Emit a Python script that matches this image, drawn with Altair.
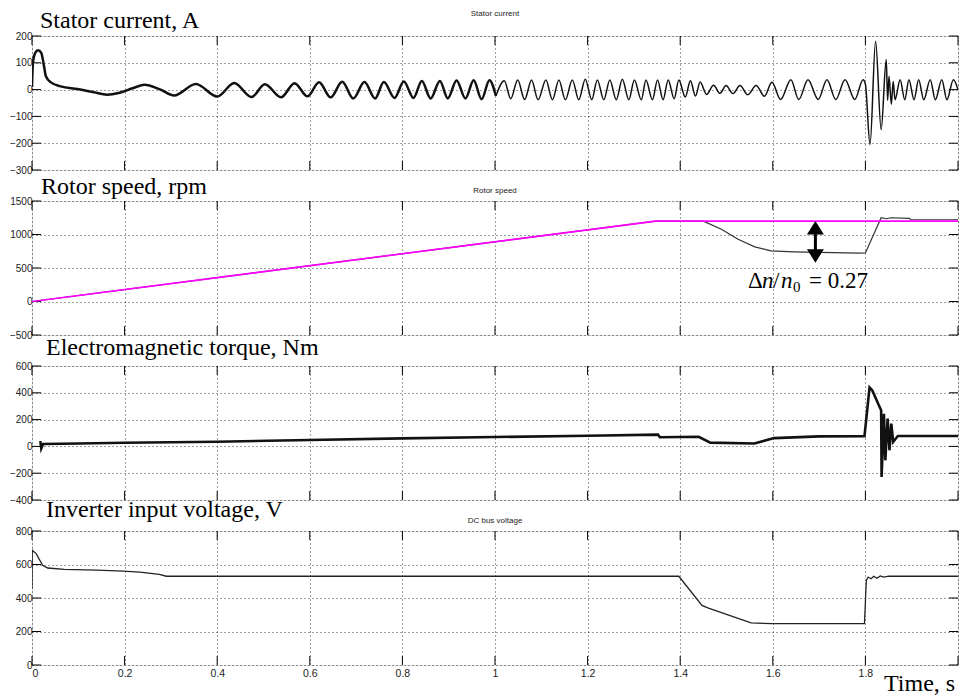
import altair as alt
import pandas as pd

# ---------------- data ----------------
x_ticks = [0, 0.2, 0.4, 0.6, 0.8, 1.0, 1.2, 1.4, 1.6, 1.8, 2.0]

# Stator current (A): turning points of the waveform
cur_t = [0.000, 0.002, 0.007, 0.013, 0.020, 0.026, 0.030, 0.041, 0.062, 0.098, 0.134, 0.162, 0.187,
         0.219, 0.243, 0.275, 0.307, 0.354, 0.400, 0.437, 0.474, 0.503, 0.538, 0.567, 0.595, 0.620,
         0.645, 0.670, 0.694, 0.718, 0.741, 0.760, 0.783, 0.803, 0.824, 0.842, 0.861, 0.881, 0.898,
         0.917, 0.936, 0.954, 0.971, 0.988, 1.002, 1.020, 1.034, 1.049, 1.064, 1.079, 1.093, 1.110,
         1.124, 1.138, 1.152, 1.167, 1.181, 1.195, 1.209, 1.221, 1.235, 1.248, 1.262, 1.275, 1.289,
         1.301, 1.316, 1.326, 1.340, 1.351, 1.363, 1.374, 1.387, 1.397, 1.411, 1.422, 1.433, 1.443,
         1.457, 1.472, 1.486, 1.499, 1.514, 1.529, 1.546, 1.564, 1.582, 1.598, 1.617, 1.639, 1.656,
         1.676, 1.698, 1.717, 1.736, 1.756, 1.777, 1.795, 1.800, 1.810, 1.822, 1.834, 1.845, 1.848,
         1.851, 1.856, 1.860, 1.864, 1.875, 1.885, 1.894, 1.905, 1.915, 1.926, 1.940, 1.951, 1.965,
         1.976, 1.990, 2.000]
cur_i = [10, 100, 137, 147, 137, 87, 50, 27, 12, 2, -10, -19, -13,
         6, 18, 2, -22, 21, -26, 25, -28, 20, -29, 24, -25, 27,
         -29, 29, -33, 28, -33, 28, -31, 30, -31, 32, -33, 32, -33,
         34, -33, 35, -36, 35, -24, 33, -34, 36, -37, 36, -38, 36,
         -38, 36, -38, 36, -38, 39, -38, 36, -38, 36, -38, 39, -38,
         36, -38, 36, -38, 36, -38, 36, -34, 36, -28, 33, -24, 28,
         -18, 16, -14, 15, -15, 15, -19, 15, -25, 27, -37, 37, -37,
         37, -37, 37, -37, 37, -37, 37, 20, -205, 180, -150, 112, -40,
         50, -55, 30, -38, 37, -38, 37, -38, 37, -38, 37, -38, 37,
         -38, 37, 0]

# Rotor speed (rpm)
ref_t = [0.0, 1.347, 2.0]
ref_n = [0, 1200, 1200]
spd_t = [0.0, 1.347, 1.450, 1.489, 1.525, 1.561, 1.596, 1.646, 1.787, 1.800, 1.834, 1.845,
         1.855, 1.895, 1.898, 2.0]
spd_n = [0, 1200, 1200, 1078, 929, 815, 755, 741, 722, 725, 1251, 1235,
         1250, 1240, 1220, 1220]

# Electromagnetic torque (Nm)
trq_t = [0.018, 0.020, 0.024, 0.1, 0.2, 0.4, 0.6, 0.8, 1.0, 1.2, 1.352, 1.356, 1.44, 1.465,
         1.56, 1.603, 1.70, 1.798, 1.809, 1.815, 1.829, 1.834, 1.835, 1.840, 1.843, 1.848,
         1.852, 1.856, 1.860, 1.870, 2.0]
trq_T = [40, -15, 18, 22, 27, 35, 48, 60, 70, 80, 88, 68, 72, 28,
         22, 62, 75, 76, 440, 418, 307, 270, -228, 244, -104, 207,
         -29, 170, 33, 78, 78]

# DC bus voltage (V)
vdc_t = [0.0, 0.0005, 0.009, 0.023, 0.034, 0.07, 0.14, 0.197, 0.233, 0.275, 0.29, 1.397,
         1.447, 1.461, 1.553, 1.60, 1.70, 1.798, 1.802, 1.806, 1.812, 1.818, 1.825, 1.832,
         1.84, 1.85, 2.0]
vdc_V = [455, 685, 665, 595, 579, 571, 566, 561, 555, 541, 530, 530,
         356, 340, 251, 247, 247, 247, 505, 525, 515, 530, 518, 532,
         525, 530, 530]

# Arrow annotation (t, upper head, lower head) in rpm
arrow_t = [1.692]
arrow_top = [1100]
arrow_bot = [680]

panel_labels = ["Stator current, A", "Rotor speed, rpm", "Electromagnetic torque, Nm",
                "Inverter input voltage, V"]
panel_titles = ["Stator current", "Rotor speed", "", "DC bus voltage"]
y_domains = [[-300, 200], [-500, 1500], [-400, 600], [0, 800]]
y_ticks = [[-300, -200, -100, 0, 100, 200], [-500, 0, 500, 1000, 1500],
           [-400, -200, 0, 200, 400, 600], [0, 200, 400, 600, 800]]

# ---------------- layout / style ----------------
W, H = 926, 134
TICK = 9
SERIF = "Liberation Serif"
SANS = "Liberation Sans"


def x_enc(field, show_labels):
    return alt.X(field, type="quantitative",
                 scale=alt.Scale(domain=[0, 2], nice=False, zero=False),
                 axis=alt.Axis(values=x_ticks, grid=True, gridDash=[1, 3], gridColor="#000",
                               gridOpacity=0.75, tickSize=0, domain=False, title=None,
                               labels=show_labels, labelFont=SANS, labelFontSize=10.5,
                               labelColor="#222", labelPadding=3,
                               labelExpr="datum.value == 2 ? '' : '' + (round(datum.value*10)/10)"))


def y_enc(field, k):
    return alt.Y(field, type="quantitative",
                 scale=alt.Scale(domain=y_domains[k], nice=False, zero=False),
                 axis=alt.Axis(values=y_ticks[k], grid=True, gridDash=[1, 3], gridColor="#000",
                               gridOpacity=0.75, tickSize=0, domain=False, title=None,
                               format="d", labelFont=SANS, labelFontSize=10, labelColor="#222",
                               labelPadding=0, minExtent=23, maxExtent=23))


def frame_ticks(k, show_labels):
    xt = pd.DataFrame({"t": x_ticks})
    yt = pd.DataFrame({"v": y_ticks[k]})
    base_x = alt.Chart(xt).mark_rule(color="black", strokeWidth=1)
    base_y = alt.Chart(yt).mark_rule(color="black", strokeWidth=1)
    return [
        base_x.encode(x=x_enc("t", show_labels), y=alt.value(0), y2=alt.value(TICK)),
        base_x.encode(x=x_enc("t", show_labels), y=alt.value(H - TICK), y2=alt.value(H)),
        base_y.encode(y=y_enc("v", k), x=alt.value(0), x2=alt.value(TICK)),
        base_y.encode(y=y_enc("v", k), x=alt.value(W - TICK), x2=alt.value(W)),
    ]


def labels(k, title_y, label_top, label_x):
    out = [alt.Chart(pd.DataFrame({"s": [panel_labels[k]]})).mark_text(
        font=SERIF, fontSize=24, align="left", baseline="top", color="black"
    ).encode(text="s:N", x=alt.value(label_x), y=alt.value(label_top))]
    if panel_titles[k]:
        out.append(alt.Chart(pd.DataFrame({"s": [panel_titles[k]]})).mark_text(
            font=SANS, fontSize=8, align="center", baseline="middle", color="#222"
        ).encode(text="s:N", x=alt.value(W / 2), y=alt.value(title_y)))
    return out


# ---- panel 1: stator current
split = cur_t.index(1.002)
cur_a = pd.DataFrame({"t": cur_t[:split + 1], "v": cur_i[:split + 1]})
cur_b = pd.DataFrame({"t": cur_t[split:], "v": cur_i[split:]})
p1 = alt.layer(
    *frame_ticks(0, False),
    alt.Chart(cur_a).mark_line(color="#111", strokeWidth=2.5, interpolate="monotone", clip=True)
    .encode(x=x_enc("t", False), y=y_enc("v", 0)),
    alt.Chart(cur_b).mark_line(color="#111", strokeWidth=1.5, interpolate="monotone", clip=True)
    .encode(x=x_enc("t", False), y=y_enc("v", 0)),
    *labels(0, -22, -27, 8),
).properties(width=W, height=H)

# ---- panel 2: rotor speed
spd = pd.DataFrame({"t": spd_t, "v": spd_n})
ref = pd.DataFrame({"t": ref_t, "v": ref_n})
arr = pd.DataFrame({"t": arrow_t, "top": arrow_top, "bot": arrow_bot})
tri_up = "M-1,0.8L1,0.8L0,-0.8Z"
tri_dn = "M-1,-0.8L1,-0.8L0,0.8Z"
delta_parts = [("\u0394", 716, "normal", 23, 87), ("n", 730, "italic", 23, 87),
               ("/", 741, "normal", 23, 87), ("n", 749, "italic", 23, 87),
               ("0", 761, "normal", 15, 91), ("= 0.27", 777, "normal", 23, 87)]
delta_layers = [
    alt.Chart(pd.DataFrame({"s": [s]})).mark_text(
        font=SERIF, fontSize=fs, fontStyle=st, align="left", baseline="alphabetic", color="black"
    ).encode(text="s:N", x=alt.value(px), y=alt.value(py))
    for s, px, st, fs, py in delta_parts
]
p2 = alt.layer(
    *frame_ticks(1, False),
    alt.Chart(spd).mark_line(color="#333", strokeWidth=1.2, clip=True)
    .encode(x=x_enc("t", False), y=y_enc("v", 1)),
    alt.Chart(ref).mark_line(color="#FF00FF", strokeWidth=1.6, clip=True)
    .encode(x=x_enc("t", False), y=y_enc("v", 1)),
    alt.Chart(arr).mark_rule(color="black", strokeWidth=3)
    .encode(x=x_enc("t", False), y=y_enc("top", 1), y2="bot:Q"),
    alt.Chart(arr).mark_point(shape=tri_up, size=289, filled=True, color="black", opacity=1)
    .encode(x=x_enc("t", False), y=y_enc("top", 1)),
    alt.Chart(arr).mark_point(shape=tri_dn, size=289, filled=True, color="black", opacity=1)
    .encode(x=x_enc("t", False), y=y_enc("bot", 1)),
    *delta_layers,
    *labels(1, -10, -26, 9),
).properties(width=W, height=H)

# ---- panel 3: torque
trq = pd.DataFrame({"t": trq_t, "v": trq_T})
p3 = alt.layer(
    *frame_ticks(2, False),
    alt.Chart(trq).mark_line(color="#111", strokeWidth=2.6, clip=True)
    .encode(x=x_enc("t", False), y=y_enc("v", 2)),
    *labels(2, -10, -30, 14),
).properties(width=W, height=H)

# ---- panel 4: DC bus voltage
vdc = pd.DataFrame({"t": vdc_t, "v": vdc_V})
p4 = alt.layer(
    *frame_ticks(3, True),
    alt.Chart(vdc).mark_line(color="#222", strokeWidth=1.3, clip=True)
    .encode(x=x_enc("t", True), y=y_enc("v", 3)),
    alt.Chart(pd.DataFrame({"s": ["Time, s"]})).mark_text(
        font=SERIF, fontSize=24, align="left", baseline="alphabetic", color="black"
    ).encode(text="s:N", x=alt.value(852), y=alt.value(160)),
    *labels(3, -10, -33, 14),
).properties(width=W, height=H)

chart = alt.vconcat(
    p1, p2, p3, p4, spacing=31, bounds="flush",
    padding={"left": 0, "top": 0, "right": 0, "bottom": 0},
).configure_view(
    stroke="black", strokeWidth=1
).configure(background="white")

chart.save("out.html", embed_options={"renderer": "svg", "actions": False})
